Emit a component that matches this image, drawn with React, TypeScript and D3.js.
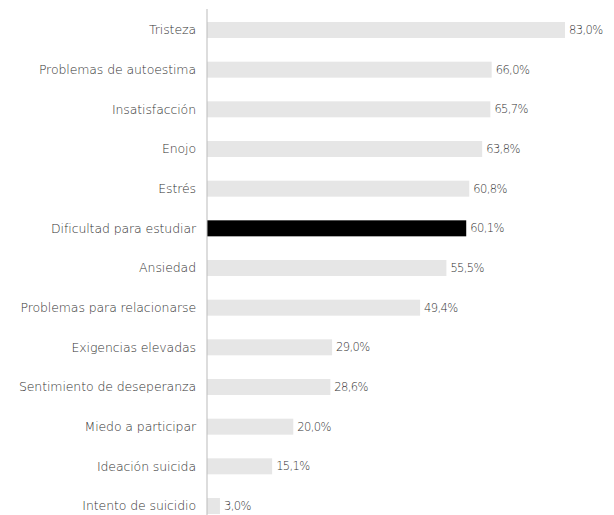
import React from "react";
import * as d3 from "d3";

const categories = [
  "Tristeza",
  "Problemas de autoestima",
  "Insatisfacción",
  "Enojo",
  "Estrés",
  "Dificultad para estudiar",
  "Ansiedad",
  "Problemas para relacionarse",
  "Exigencias elevadas",
  "Sentimiento de deseperanza",
  "Miedo a participar",
  "Ideación suicida",
  "Intento de suicidio",
];
const values = [83.0, 66.0, 65.7, 63.8, 60.8, 60.1, 55.5, 49.4, 29.0, 28.6, 20.0, 15.1, 3.0];
const highlighted = ["Dificultad para estudiar"];

const W = 614;
const H = 515;
const FONT = "'DejaVu Sans', sans-serif";

export default function App() {
  const x = d3.scaleLinear().domain([0, 83]).range([207, 565]);
  const y = d3.scalePoint<string>().domain(categories).range([30, 506]);
  const barH = 16;
  const fmt = (v: number) => v.toFixed(1).replace(".", ",") + "%";

  return (
    <svg
      width={W}
      height={H}
      style={{ position: "absolute", left: 0, top: 0, background: "#fff" }}
    >
      {categories.map((c, i) => {
        const cy = y(c)!;
        const v = values[i];
        const hl = highlighted.includes(c);
        return (
          <g key={c}>
            <rect
              x={x(0)}
              y={cy - barH / 2}
              width={x(v) - x(0)}
              height={barH}
              fill={hl ? "#000" : "#e6e6e6"}
            />
            <text
              x={196}
              y={cy}
              dy="0.35em"
              textAnchor="end"
              fontFamily={FONT}
              fontSize={12.5}
              fontWeight={200}
              fill="#333"
              letterSpacing={-0.1}
            >
              {c}
            </text>
            <text
              x={x(v) + 4}
              y={cy}
              dy="0.35em"
              fontFamily={FONT}
              fontSize={11.5}
              fontWeight={200}
              fill="#333"
              letterSpacing={-0.6}
            >
              {fmt(v)}
            </text>
          </g>
        );
      })}
      <line x1={207} x2={207} y1={9} y2={H} stroke="#bbb" strokeWidth={1} />
    </svg>
  );
}
